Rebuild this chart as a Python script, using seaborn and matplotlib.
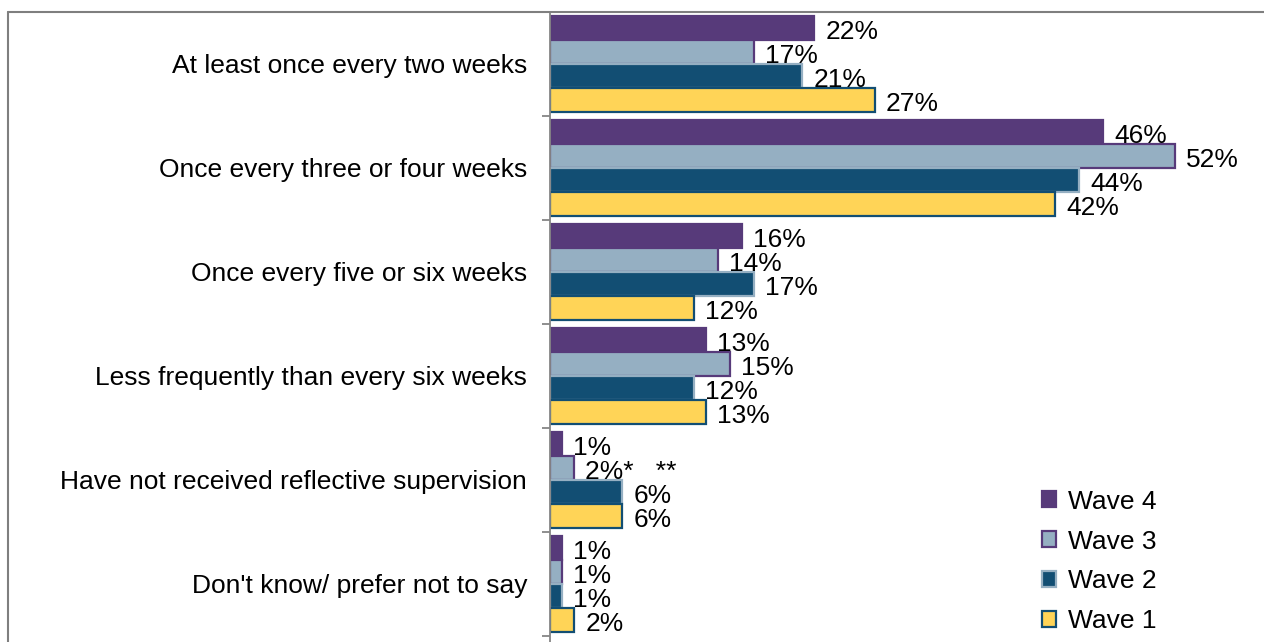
import matplotlib
matplotlib.use("Agg")
import matplotlib.pyplot as plt
import seaborn as sns
import pandas as pd
from matplotlib.patches import Patch
from matplotlib.lines import Line2D

categories = [
    "At least once every two weeks",
    "Once every three or four weeks",
    "Once every five or six weeks",
    "Less frequently than every six weeks",
    "Have not received reflective supervision",
    "Don't know/ prefer not to say",
]
waves = ["Wave 4", "Wave 3", "Wave 2", "Wave 1"]

wave4 = [22, 46, 16, 13, 1, 1]
wave3 = [17, 52, 14, 15, 2, 1]
wave2 = [21, 44, 17, 12, 6, 1]
wave1 = [27, 42, 12, 13, 6, 2]

wave3_labels = ["17%", "52%", "14%", "15%", "2%*   **", "1%"]

fills = {"Wave 4": "#573A7A", "Wave 3": "#95AFC2", "Wave 2": "#124E73", "Wave 1": "#FFD457"}
edges = {"Wave 4": "#573A7A", "Wave 3": "#573A7A", "Wave 2": "#95AFC2", "Wave 1": "#124E73"}

df = pd.DataFrame({
    "category": categories * 4,
    "wave": [w for w in waves for _ in categories],
    "value": wave4 + wave3 + wave2 + wave1,
})

sns.set_style("white")
plt.rcParams["font.family"] = ["Liberation Sans", "DejaVu Sans"]
plt.rcParams["text.color"] = "black"
plt.rcParams["ytick.color"] = "black"

W, H = 1264, 642
fig = plt.figure(figsize=(W / 100, H / 100), dpi=100)
ax = fig.add_axes([550 / W, 0, (W - 550) / W, 630 / H])

sns.barplot(
    data=df, x="value", y="category", hue="wave",
    order=categories, hue_order=waves, palette=fills, saturation=1,
    orient="h", width=0.92, ax=ax, legend=False,
)

series = {"Wave 4": wave4, "Wave 3": wave3, "Wave 2": wave2, "Wave 1": wave1}
for cont, w in zip(ax.containers, waves):
    for p in cont.patches:
        p.set_edgecolor(edges[w])
        p.set_linewidth(1.6)
    if w == "Wave 3":
        labels = wave3_labels
    else:
        labels = [f"{v}%" for v in series[w]]
    texts = ax.bar_label(cont, labels=labels, padding=8, fontsize=19, color="black")
    for t in texts:
        t.xyann = (t.xyann[0], -2.8)

ax.set_xlim(0, (W - 550) / 12.02)
ax.set_ylim(5.5 + 6 / 104, -0.5)
ax.set_xlabel("")
ax.set_ylabel("")
ax.set_xticks([])
for s in ["top", "right", "bottom"]:
    ax.spines[s].set_visible(False)
ax.spines["left"].set_color("#868686")
ax.spines["left"].set_linewidth(1.3)
ax.tick_params(axis="y", which="major", length=0, pad=16.5, labelsize=19, labelcolor="black")
ax.set_yticks([i + 0.5 for i in range(-1, 6)], minor=True)
ax.tick_params(axis="y", which="minor", left=True, length=6, color="#868686", width=1.3)

handles = [Patch(facecolor=fills[w], edgecolor=edges[w], linewidth=1.6, label=w) for w in waves]
fig.legend(
    handles=handles, loc="upper left", bbox_to_anchor=(1018 / W, 1 - 466 / H),
    frameon=False, fontsize=19, handlelength=0.55, handleheight=0.55,
    handletextpad=0.45, labelspacing=0.6,
)

# outer chart frame (left and top edges)
fig.add_artist(Line2D([7.5 / W, 7.5 / W], [0, 1 - 12 / H], color="#7F7F7F", linewidth=1.5))
fig.add_artist(Line2D([7.5 / W, 1], [1 - 12 / H, 1 - 12 / H], color="#7F7F7F", linewidth=1.5))

fig.savefig("out.png", dpi=100)
